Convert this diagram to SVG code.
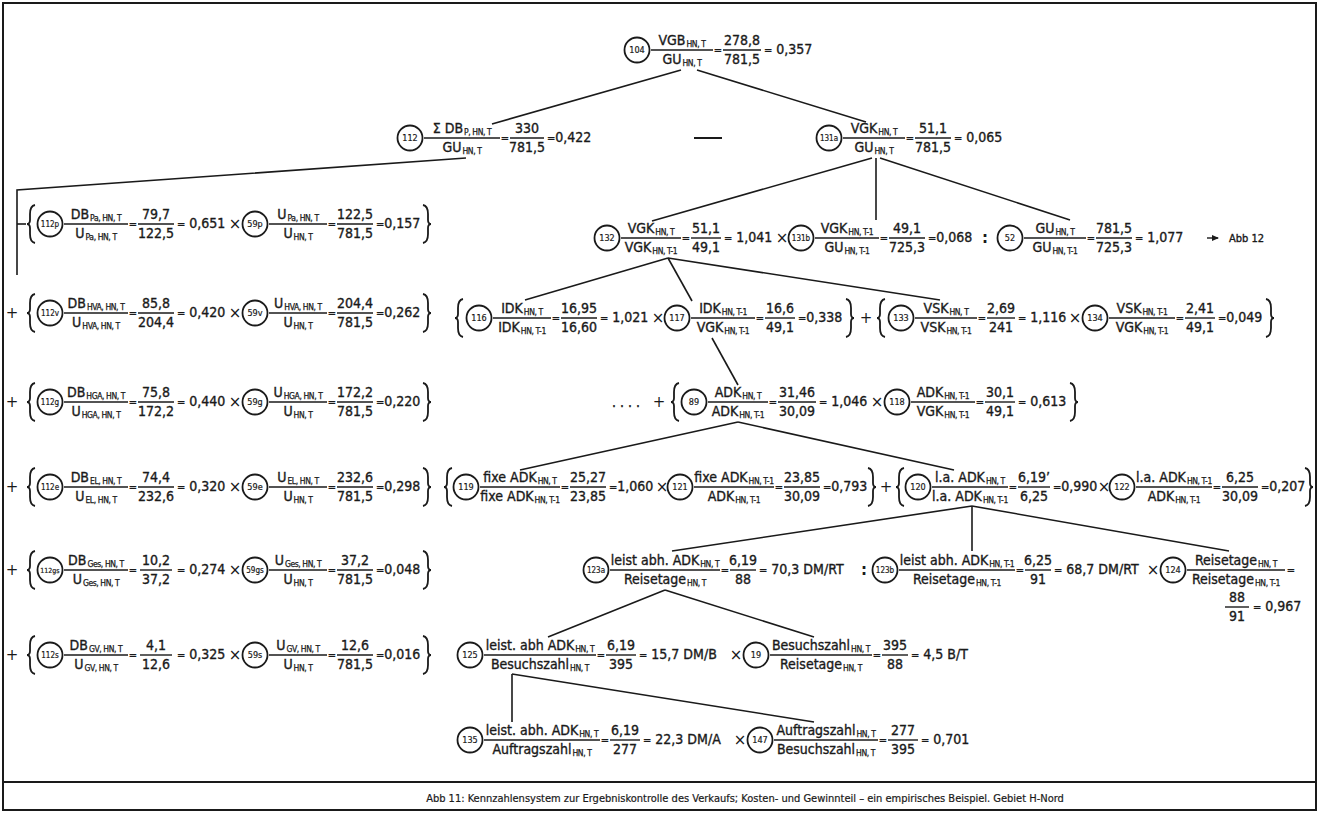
<svg xmlns="http://www.w3.org/2000/svg" width="1319" height="813" viewBox="0 0 1319 813">
<style>
.t{font-family:"DejaVu Sans Condensed","DejaVu Sans","Liberation Sans",sans-serif;font-stretch:condensed;font-size:14px;fill:#1a1a1a;stroke:#1a1a1a;stroke-width:0.35}
.m{text-anchor:middle}
.s{font-size:8.5px;letter-spacing:-0.4px;stroke-width:0.25}
.e{font-size:11px}
.cl{font-family:"DejaVu Sans Condensed","DejaVu Sans","Liberation Sans",sans-serif;font-stretch:condensed;font-size:9px;text-anchor:middle;fill:#1a1a1a;stroke:#1a1a1a;stroke-width:0.2}
.c4{font-size:8px}
.c5{font-size:7px}
.op{font-family:"DejaVu Sans","Liberation Sans",sans-serif;font-size:15px;text-anchor:middle;fill:#1a1a1a}
.cap{font-family:"DejaVu Sans Condensed","DejaVu Sans","Liberation Sans",sans-serif;font-stretch:condensed;font-size:11px;text-anchor:middle;fill:#1a1a1a;stroke:#1a1a1a;stroke-width:0.2}
line,polyline{stroke:#1a1a1a;stroke-width:1.4;fill:none}
.cn line,.cn polyline{stroke-width:1.6}
circle{fill:none;stroke:#1a1a1a;stroke-width:1.8}
</style>
<defs>
<path id="lb" d="M5,-19 Q0,-18 0,-10 L0,-4 Q0,0 -3,0 Q0,0 0,4 L0,10 Q0,18 5,19" fill="none" stroke="#1a1a1a" stroke-width="1.8"/>
<path id="rb" d="M-5,-19 Q0,-18 0,-10 L0,-4 Q0,0 3,0 Q0,0 0,4 L0,10 Q0,18 -5,19" fill="none" stroke="#1a1a1a" stroke-width="1.8"/>
<marker id="ah" markerWidth="8" markerHeight="8" refX="6" refY="3" orient="auto" markerUnits="userSpaceOnUse"><path d="M0,0 L7,3 L0,6 z" fill="#1a1a1a"/></marker>
</defs>
<rect width="1319" height="813" fill="#fff"/>
<g id="frame">
<rect x="3" y="3" width="1313" height="807" fill="none" stroke="#1a1a1a" stroke-width="2"/>
<line x1="3" y1="782" x2="1316" y2="782" style="stroke-width:2"/>
<text class="cap" x="745" y="802">Abb 11: Kennzahlensystem zur Ergebniskontrolle des Verkaufs; Kosten- und Gewinnteil – ein empirisches Beispiel. Gebiet H-Nord</text>
</g>
<g id="connectors" class="cn">
<line x1="681" y1="70" x2="492" y2="124"/>
<line x1="697" y1="70" x2="866" y2="122"/>
<polyline points="466,158 17,190 17,275"/>
<line x1="17" y1="224" x2="26" y2="224"/>
<line x1="872" y1="158" x2="652" y2="221"/>
<line x1="876" y1="158" x2="876" y2="220"/>
<line x1="880" y1="158" x2="1070" y2="220"/>
<line x1="668" y1="258" x2="525" y2="300"/>
<line x1="668" y1="258" x2="692" y2="301"/>
<line x1="668" y1="258" x2="940" y2="300"/>
<line x1="712" y1="338" x2="738" y2="385"/>
<line x1="738" y1="422" x2="520" y2="470"/>
<line x1="738" y1="422" x2="954" y2="470"/>
<line x1="972" y1="506" x2="672" y2="551"/>
<line x1="972" y1="506" x2="972" y2="551"/>
<line x1="972" y1="506" x2="1229" y2="551"/>
<line x1="665" y1="590" x2="548" y2="637"/>
<line x1="665" y1="590" x2="814" y2="637"/>
<line x1="512" y1="674" x2="512" y2="722"/>
<line x1="512" y1="674" x2="814" y2="722"/>
</g>
<g id="operators">
<line x1="694" y1="138" x2="722" y2="138" style="stroke-width:2"/>
<use href="#lb" x="30" y="224"/><use href="#rb" x="428" y="224"/><text class="op" x="235" y="229">×</text>
<text class="op" x="12" y="318">+</text><use href="#lb" x="30" y="313"/><use href="#rb" x="428" y="313"/><text class="op" x="235" y="318">×</text>
<text class="op" x="12" y="407">+</text><use href="#lb" x="30" y="402"/><use href="#rb" x="428" y="402"/><text class="op" x="235" y="407">×</text>
<text class="op" x="12" y="492">+</text><use href="#lb" x="30" y="487"/><use href="#rb" x="428" y="487"/><text class="op" x="235" y="492">×</text>
<text class="op" x="12" y="575">+</text><use href="#lb" x="30" y="570"/><use href="#rb" x="428" y="570"/><text class="op" x="235" y="575">×</text>
<text class="op" x="12" y="660">+</text><use href="#lb" x="30" y="655"/><use href="#rb" x="428" y="655"/><text class="op" x="235" y="660">×</text>
<text class="op" x="782" y="243">×</text>
<text class="op" x="985" y="243" style="font-weight:bold">:</text>
<line x1="1207" y1="238" x2="1218" y2="238" marker-end="url(#ah)"/>
<text class="t" x="1229" y="242" style="font-size:11px">Abb 12</text>
<use href="#lb" x="458" y="318"/><text class="op" x="658" y="323">×</text><use href="#rb" x="851" y="318"/>
<text class="op" x="866" y="323">+</text>
<use href="#lb" x="880" y="318"/><text class="op" x="1075" y="323">×</text><use href="#rb" x="1271" y="318"/>
<text class="t" x="612" y="407">. . . .</text>
<text class="op" x="659" y="407">+</text>
<use href="#lb" x="674" y="402"/><text class="op" x="877" y="407">×</text><use href="#rb" x="1075" y="402"/>
<use href="#lb" x="447" y="487"/><text class="op" x="662" y="492">×</text><use href="#rb" x="873" y="487"/>
<text class="op" x="886" y="492">+</text>
<use href="#lb" x="899" y="487"/><text class="op" x="1104" y="492">×</text><use href="#rb" x="1310" y="487"/>
<text class="op" x="864" y="575" style="font-weight:bold">:</text>
<text class="op" x="1153" y="575">×</text>
<text class="op" x="736" y="660">×</text>
<text class="op" x="740" y="745">×</text>
</g>

<g id="n104" transform="translate(637,50)">
<circle r="12.5"/><text class="cl" y="3">104</text>
<text class="t m" x="45" y="-5">VGB<tspan class="s" dx="1" dy="2">HN, T</tspan></text>
<line x1="14" x2="76"/>
<text class="t m" x="45" y="14">GU<tspan class="s" dx="1" dy="2">HN, T</tspan></text>
<text class="t m e" x="81" y="4">=</text>
<text class="t m" x="105" y="-5">278,8</text><line x1="86" x2="124"/><text class="t m" x="105" y="14">781,5</text>
<text class="t" x="127" y="4"><tspan class="e">=</tspan> 0,357</text>
</g>

<g id="n112" transform="translate(410,138)">
<circle r="12.5"/><text class="cl" y="3">112</text>
<text class="t m" x="52" y="-5">Σ DB<tspan class="s" dx="1" dy="2">P, HN, T</tspan></text>
<line x1="14" x2="90"/>
<text class="t m" x="52" y="14">GU<tspan class="s" dx="1" dy="2">HN, T</tspan></text>
<text class="t m e" x="95" y="4">=</text>
<text class="t m" x="117" y="-5">330</text><line x1="100" x2="134"/><text class="t m" x="117" y="14">781,5</text>
<text class="t" x="137" y="4"><tspan class="e">=</tspan>0,422</text>
</g>

<g id="n131a" transform="translate(829,138)">
<circle r="12.5"/><text class="cl c4" y="3">131a</text>
<text class="t m" x="45" y="-5">VGK<tspan class="s" dx="1" dy="2">HN, T</tspan></text>
<line x1="14" x2="76"/>
<text class="t m" x="45" y="14">GU<tspan class="s" dx="1" dy="2">HN, T</tspan></text>
<text class="t m e" x="81" y="4">=</text>
<text class="t m" x="104" y="-5">51,1</text><line x1="86" x2="122"/><text class="t m" x="104" y="14">781,5</text>
<text class="t" x="125" y="4"><tspan class="e">=</tspan> 0,065</text>
</g>

<g id="n112p" transform="translate(50,224)">
<circle r="12.5"/><text class="cl c4" y="3">112p</text>
<text class="t m" x="46" y="-5">DB<tspan class="s" dx="1" dy="2">Pa, HN, T</tspan></text><line x1="14" x2="78"/><text class="t m" x="46" y="14">U<tspan class="s" dx="1" dy="2">Pa, HN, T</tspan></text>
<text class="t m e" x="83" y="4">=</text>
<text class="t m" x="106" y="-5">79,7</text><line x1="88" x2="124"/><text class="t m" x="106" y="14">122,5</text>
<text class="t" x="127" y="4"><tspan class="e">=</tspan> 0,651</text>
</g>
<g id="n59p" transform="translate(255,224)">
<circle r="12.5"/><text class="cl" y="3">59p</text>
<text class="t m" x="43" y="-5">U<tspan class="s" dx="1" dy="2">Pa, HN, T</tspan></text><line x1="14" x2="72"/><text class="t m" x="43" y="14">U<tspan class="s" dx="1" dy="2">HN, T</tspan></text>
<text class="t m e" x="77" y="4">=</text>
<text class="t m" x="100" y="-5">122,5</text><line x1="82" x2="118"/><text class="t m" x="100" y="14">781,5</text>
<text class="t" x="121" y="4"><tspan class="e">=</tspan>0,157</text>
</g>

<g id="n112v" transform="translate(50,313)">
<circle r="12.5"/><text class="cl c4" y="3">112v</text>
<text class="t m" x="46" y="-5">DB<tspan class="s" dx="1" dy="2">HVA, HN, T</tspan></text><line x1="14" x2="78"/><text class="t m" x="46" y="14">U<tspan class="s" dx="1" dy="2">HVA, HN, T</tspan></text>
<text class="t m e" x="83" y="4">=</text>
<text class="t m" x="106" y="-5">85,8</text><line x1="88" x2="124"/><text class="t m" x="106" y="14">204,4</text>
<text class="t" x="127" y="4"><tspan class="e">=</tspan> 0,420</text>
</g>
<g id="n59v" transform="translate(255,313)">
<circle r="12.5"/><text class="cl" y="3">59v</text>
<text class="t m" x="43" y="-5">U<tspan class="s" dx="1" dy="2">HVA, HN, T</tspan></text><line x1="14" x2="72"/><text class="t m" x="43" y="14">U<tspan class="s" dx="1" dy="2">HN, T</tspan></text>
<text class="t m e" x="77" y="4">=</text>
<text class="t m" x="100" y="-5">204,4</text><line x1="82" x2="118"/><text class="t m" x="100" y="14">781,5</text>
<text class="t" x="121" y="4"><tspan class="e">=</tspan>0,262</text>
</g>

<g id="n112g" transform="translate(50,402)">
<circle r="12.5"/><text class="cl c4" y="3">112g</text>
<text class="t m" x="46" y="-5">DB<tspan class="s" dx="1" dy="2">HGA, HN, T</tspan></text><line x1="14" x2="78"/><text class="t m" x="46" y="14">U<tspan class="s" dx="1" dy="2">HGA, HN, T</tspan></text>
<text class="t m e" x="83" y="4">=</text>
<text class="t m" x="106" y="-5">75,8</text><line x1="88" x2="124"/><text class="t m" x="106" y="14">172,2</text>
<text class="t" x="127" y="4"><tspan class="e">=</tspan> 0,440</text>
</g>
<g id="n59g" transform="translate(255,402)">
<circle r="12.5"/><text class="cl" y="3">59g</text>
<text class="t m" x="43" y="-5">U<tspan class="s" dx="1" dy="2">HGA, HN, T</tspan></text><line x1="14" x2="72"/><text class="t m" x="43" y="14">U<tspan class="s" dx="1" dy="2">HN, T</tspan></text>
<text class="t m e" x="77" y="4">=</text>
<text class="t m" x="100" y="-5">172,2</text><line x1="82" x2="118"/><text class="t m" x="100" y="14">781,5</text>
<text class="t" x="121" y="4"><tspan class="e">=</tspan>0,220</text>
</g>

<g id="n112e" transform="translate(50,487)">
<circle r="12.5"/><text class="cl c4" y="3">112e</text>
<text class="t m" x="46" y="-5">DB<tspan class="s" dx="1" dy="2">EL, HN, T</tspan></text><line x1="14" x2="78"/><text class="t m" x="46" y="14">U<tspan class="s" dx="1" dy="2">EL, HN, T</tspan></text>
<text class="t m e" x="83" y="4">=</text>
<text class="t m" x="106" y="-5">74,4</text><line x1="88" x2="124"/><text class="t m" x="106" y="14">232,6</text>
<text class="t" x="127" y="4"><tspan class="e">=</tspan> 0,320</text>
</g>
<g id="n59e" transform="translate(255,487)">
<circle r="12.5"/><text class="cl" y="3">59e</text>
<text class="t m" x="43" y="-5">U<tspan class="s" dx="1" dy="2">EL, HN, T</tspan></text><line x1="14" x2="72"/><text class="t m" x="43" y="14">U<tspan class="s" dx="1" dy="2">HN, T</tspan></text>
<text class="t m e" x="77" y="4">=</text>
<text class="t m" x="100" y="-5">232,6</text><line x1="82" x2="118"/><text class="t m" x="100" y="14">781,5</text>
<text class="t" x="121" y="4"><tspan class="e">=</tspan>0,298</text>
</g>

<g id="n112gs" transform="translate(50,570)">
<circle r="12.5"/><text class="cl c5" y="3">112gs</text>
<text class="t m" x="46" y="-5">DB<tspan class="s" dx="1" dy="2">Ges, HN, T</tspan></text><line x1="14" x2="78"/><text class="t m" x="46" y="14">U<tspan class="s" dx="1" dy="2">Ges, HN, T</tspan></text>
<text class="t m e" x="83" y="4">=</text>
<text class="t m" x="106" y="-5">10,2</text><line x1="90" x2="122"/><text class="t m" x="106" y="14">37,2</text>
<text class="t" x="127" y="4"><tspan class="e">=</tspan> 0,274</text>
</g>
<g id="n59gs" transform="translate(255,570)">
<circle r="12.5"/><text class="cl c4" y="3">59gs</text>
<text class="t m" x="43" y="-5">U<tspan class="s" dx="1" dy="2">Ges, HN, T</tspan></text><line x1="14" x2="72"/><text class="t m" x="43" y="14">U<tspan class="s" dx="1" dy="2">HN, T</tspan></text>
<text class="t m e" x="77" y="4">=</text>
<text class="t m" x="100" y="-5">37,2</text><line x1="82" x2="118"/><text class="t m" x="100" y="14">781,5</text>
<text class="t" x="121" y="4"><tspan class="e">=</tspan>0,048</text>
</g>

<g id="n112s" transform="translate(50,655)">
<circle r="12.5"/><text class="cl c4" y="3">112s</text>
<text class="t m" x="46" y="-5">DB<tspan class="s" dx="1" dy="2">GV, HN, T</tspan></text><line x1="14" x2="78"/><text class="t m" x="46" y="14">U<tspan class="s" dx="1" dy="2">GV, HN, T</tspan></text>
<text class="t m e" x="83" y="4">=</text>
<text class="t m" x="106" y="-5">4,1</text><line x1="90" x2="122"/><text class="t m" x="106" y="14">12,6</text>
<text class="t" x="127" y="4"><tspan class="e">=</tspan> 0,325</text>
</g>
<g id="n59s" transform="translate(255,655)">
<circle r="12.5"/><text class="cl" y="3">59s</text>
<text class="t m" x="43" y="-5">U<tspan class="s" dx="1" dy="2">GV, HN, T</tspan></text><line x1="14" x2="72"/><text class="t m" x="43" y="14">U<tspan class="s" dx="1" dy="2">HN, T</tspan></text>
<text class="t m e" x="77" y="4">=</text>
<text class="t m" x="100" y="-5">12,6</text><line x1="82" x2="118"/><text class="t m" x="100" y="14">781,5</text>
<text class="t" x="121" y="4"><tspan class="e">=</tspan>0,016</text>
</g>

<g id="n132" transform="translate(607,238)">
<circle r="12.5"/><text class="cl" y="3">132</text>
<text class="t m" x="44" y="-5">VGK<tspan class="s" dx="1" dy="2">HN, T</tspan></text><line x1="14" x2="74"/><text class="t m" x="44" y="14">VGK<tspan class="s" dx="1" dy="2">HN, T-1</tspan></text>
<text class="t m e" x="79" y="4">=</text>
<text class="t m" x="99" y="-5">51,1</text><line x1="84" x2="114"/><text class="t m" x="99" y="14">49,1</text>
<text class="t" x="117" y="4"><tspan class="e">=</tspan> 1,041</text>
</g>
<g id="n131b" transform="translate(801,238)">
<circle r="12.5"/><text class="cl c4" y="3">131b</text>
<text class="t m" x="46" y="-5">VGK<tspan class="s" dx="1" dy="2">HN, T-1</tspan></text><line x1="14" x2="78"/><text class="t m" x="46" y="14">GU<tspan class="s" dx="1" dy="2">HN, T-1</tspan></text>
<text class="t m e" x="83" y="4">=</text>
<text class="t m" x="106" y="-5">49,1</text><line x1="88" x2="124"/><text class="t m" x="106" y="14">725,3</text>
<text class="t" x="127" y="4"><tspan class="e">=</tspan>0,068</text>
</g>
<g id="n52" transform="translate(1010,238)">
<circle r="12.5"/><text class="cl" y="3">52</text>
<text class="t m" x="45" y="-5">GU<tspan class="s" dx="1" dy="2">HN, T</tspan></text><line x1="14" x2="76"/><text class="t m" x="45" y="14">GU<tspan class="s" dx="1" dy="2">HN, T-1</tspan></text>
<text class="t m e" x="81" y="4">=</text>
<text class="t m" x="104" y="-5">781,5</text><line x1="86" x2="122"/><text class="t m" x="104" y="14">725,3</text>
<text class="t" x="125" y="4"><tspan class="e">=</tspan> 1,077</text>
</g>

<g id="n116" transform="translate(479,318)">
<circle r="12.5"/><text class="cl" y="3">116</text>
<text class="t m" x="43" y="-5">IDK<tspan class="s" dx="1" dy="2">HN, T</tspan></text><line x1="14" x2="72"/><text class="t m" x="43" y="14">IDK<tspan class="s" dx="1" dy="2">HN, T-1</tspan></text>
<text class="t m e" x="77" y="4">=</text>
<text class="t m" x="100" y="-5">16,95</text><line x1="82" x2="118"/><text class="t m" x="100" y="14">16,60</text>
<text class="t" x="121" y="4"><tspan class="e">=</tspan> 1,021</text>
</g>
<g id="n117" transform="translate(677,318)">
<circle r="12.5"/><text class="cl" y="3">117</text>
<text class="t m" x="46" y="-5">IDK<tspan class="s" dx="1" dy="2">HN, T-1</tspan></text><line x1="14" x2="78"/><text class="t m" x="46" y="14">VGK<tspan class="s" dx="1" dy="2">HN, T-1</tspan></text>
<text class="t m e" x="83" y="4">=</text>
<text class="t m" x="103" y="-5">16,6</text><line x1="88" x2="118"/><text class="t m" x="103" y="14">49,1</text>
<text class="t" x="121" y="4"><tspan class="e">=</tspan>0,338</text>
</g>
<g id="n133" transform="translate(901,318)">
<circle r="12.5"/><text class="cl" y="3">133</text>
<text class="t m" x="45" y="-5">VSK<tspan class="s" dx="1" dy="2">HN, T</tspan></text><line x1="14" x2="76"/><text class="t m" x="45" y="14">VSK<tspan class="s" dx="1" dy="2">HN, T-1</tspan></text>
<text class="t m e" x="81" y="4">=</text>
<text class="t m" x="100" y="-5">2,69</text><line x1="86" x2="114"/><text class="t m" x="100" y="14">241</text>
<text class="t" x="117" y="4"><tspan class="e">=</tspan> 1,116</text>
</g>
<g id="n134" transform="translate(1095,318)">
<circle r="12.5"/><text class="cl" y="3">134</text>
<text class="t m" x="47" y="-5">VSK<tspan class="s" dx="1" dy="2">HN, T-1</tspan></text><line x1="14" x2="80"/><text class="t m" x="47" y="14">VGK<tspan class="s" dx="1" dy="2">HN, T-1</tspan></text>
<text class="t m e" x="85" y="4">=</text>
<text class="t m" x="105" y="-5">2,41</text><line x1="90" x2="120"/><text class="t m" x="105" y="14">49,1</text>
<text class="t" x="123" y="4"><tspan class="e">=</tspan>0,049</text>
</g>

<g id="n89" transform="translate(694,402)">
<circle r="12.5"/><text class="cl" y="3">89</text>
<text class="t m" x="44" y="-5">ADK<tspan class="s" dx="1" dy="2">HN, T</tspan></text><line x1="14" x2="74"/><text class="t m" x="44" y="14">ADK<tspan class="s" dx="1" dy="2">HN, T-1</tspan></text>
<text class="t m e" x="79" y="4">=</text>
<text class="t m" x="103" y="-5">31,46</text><line x1="84" x2="122"/><text class="t m" x="103" y="14">30,09</text>
<text class="t" x="125" y="4"><tspan class="e">=</tspan> 1,046</text>
</g>
<g id="n118" transform="translate(897,402)">
<circle r="12.5"/><text class="cl" y="3">118</text>
<text class="t m" x="46" y="-5">ADK<tspan class="s" dx="1" dy="2">HN, T-1</tspan></text><line x1="14" x2="78"/><text class="t m" x="46" y="14">VGK<tspan class="s" dx="1" dy="2">HN, T-1</tspan></text>
<text class="t m e" x="83" y="4">=</text>
<text class="t m" x="103" y="-5">30,1</text><line x1="88" x2="118"/><text class="t m" x="103" y="14">49,1</text>
<text class="t" x="121" y="4"><tspan class="e">=</tspan> 0,613</text>
</g>

<g id="n119" transform="translate(466,487)">
<circle r="12.5"/><text class="cl" y="3">119</text>
<text class="t m" x="54" y="-5">fixe ADK<tspan class="s" dx="1" dy="2">HN, T</tspan></text><line x1="14" x2="94"/><text class="t m" x="54" y="14">fixe ADK<tspan class="s" dx="1" dy="2">HN, T-1</tspan></text>
<text class="t m e" x="99" y="4">=</text>
<text class="t m" x="122" y="-5">25,27</text><line x1="104" x2="140"/><text class="t m" x="122" y="14">23,85</text>
<text class="t" x="143" y="4"><tspan class="e">=</tspan>1,060</text>
</g>
<g id="n121" transform="translate(680,487)">
<circle r="12.5"/><text class="cl" y="3">121</text>
<text class="t m" x="54" y="-5">fixe ADK<tspan class="s" dx="1" dy="2">HN, T-1</tspan></text><line x1="14" x2="94"/><text class="t m" x="54" y="14">ADK<tspan class="s" dx="1" dy="2">HN, T-1</tspan></text>
<text class="t m e" x="99" y="4">=</text>
<text class="t m" x="122" y="-5">23,85</text><line x1="104" x2="140"/><text class="t m" x="122" y="14">30,09</text>
<text class="t" x="143" y="4"><tspan class="e">=</tspan>0,793</text>
</g>
<g id="n120" transform="translate(918,487)">
<circle r="12.5"/><text class="cl" y="3">120</text>
<text class="t m" x="52" y="-5">l.a. ADK<tspan class="s" dx="1" dy="2">HN, T</tspan></text><line x1="14" x2="90"/><text class="t m" x="52" y="14">l.a. ADK<tspan class="s" dx="1" dy="2">HN, T-1</tspan></text>
<text class="t m e" x="95" y="4">=</text>
<text class="t m" x="116" y="-5">6,19’</text><line x1="100" x2="132"/><text class="t m" x="116" y="14">6,25</text>
<text class="t" x="135" y="4"><tspan class="e">=</tspan>0,990</text>
</g>
<g id="n122" transform="translate(1122,487)">
<circle r="12.5"/><text class="cl" y="3">122</text>
<text class="t m" x="52" y="-5">l.a. ADK<tspan class="s" dx="1" dy="2">HN, T-1</tspan></text><line x1="14" x2="90"/><text class="t m" x="52" y="14">ADK<tspan class="s" dx="1" dy="2">HN, T-1</tspan></text>
<text class="t m e" x="95" y="4">=</text>
<text class="t m" x="118" y="-5">6,25</text><line x1="100" x2="136"/><text class="t m" x="118" y="14">30,09</text>
<text class="t" x="139" y="4"><tspan class="e">=</tspan>0,207</text>
</g>

<g id="n123a" transform="translate(596,570)">
<circle r="12.5"/><text class="cl c4" y="3">123a</text>
<text class="t m" x="69" y="-5">leist abh. ADK<tspan class="s" dx="1" dy="2">HN, T</tspan></text><line x1="14" x2="124"/><text class="t m" x="69" y="14">Reisetage<tspan class="s" dx="1" dy="2">HN, T</tspan></text>
<text class="t m e" x="129" y="4">=</text>
<text class="t m" x="147" y="-5">6,19</text><line x1="134" x2="160"/><text class="t m" x="147" y="14">88</text>
<text class="t" x="163" y="4"><tspan class="e">=</tspan> 70,3 DM/RT</text>
</g>
<g id="n123b" transform="translate(885,570)">
<circle r="12.5"/><text class="cl c4" y="3">123b</text>
<text class="t m" x="72" y="-5">leist abh. ADK<tspan class="s" dx="1" dy="2">HN, T-1</tspan></text><line x1="14" x2="130"/><text class="t m" x="72" y="14">Reisetage<tspan class="s" dx="1" dy="2">HN, T-1</tspan></text>
<text class="t m e" x="135" y="4">=</text>
<text class="t m" x="153" y="-5">6,25</text><line x1="140" x2="166"/><text class="t m" x="153" y="14">91</text>
<text class="t" x="169" y="4"><tspan class="e">=</tspan> 68,7 DM/RT</text>
</g>
<g id="n124" transform="translate(1173,570)">
<circle r="12.5"/><text class="cl" y="3">124</text>
<text class="t m" x="63" y="-5">Reisetage<tspan class="s" dx="1" dy="2">HN, T</tspan></text><line x1="14" x2="112"/><text class="t m" x="63" y="14">Reisetage<tspan class="s" dx="1" dy="2">HN, T-1</tspan></text>
<text class="t m e" x="118" y="4">=</text>
<text class="t m" x="64" y="32">88</text><line x1="52" y1="37" x2="76" y2="37"/><text class="t m" x="64" y="51">91</text>
<text class="t" x="80" y="41"><tspan class="e">=</tspan> 0,967</text>
</g>

<g id="n125" transform="translate(470,655)">
<circle r="12.5"/><text class="cl" y="3">125</text>
<text class="t m" x="70" y="-5">leist. abh ADK<tspan class="s" dx="1" dy="2">HN, T</tspan></text><line x1="14" x2="126"/><text class="t m" x="70" y="14">Besuchszahl<tspan class="s" dx="1" dy="2">HN, T</tspan></text>
<text class="t m e" x="131" y="4">=</text>
<text class="t m" x="151" y="-5">6,19</text><line x1="136" x2="166"/><text class="t m" x="151" y="14">395</text>
<text class="t" x="169" y="4"><tspan class="e">=</tspan> 15,7 DM/B</text>
</g>
<g id="n19" transform="translate(756,655)">
<circle r="12.5"/><text class="cl" y="3">19</text>
<text class="t m" x="65" y="-5">Besuchszahl<tspan class="s" dx="1" dy="2">HN, T</tspan></text><line x1="14" x2="116"/><text class="t m" x="65" y="14">Reisetage<tspan class="s" dx="1" dy="2">HN, T</tspan></text>
<text class="t m e" x="121" y="4">=</text>
<text class="t m" x="139" y="-5">395</text><line x1="126" x2="152"/><text class="t m" x="139" y="14">88</text>
<text class="t" x="155" y="4"><tspan class="e">=</tspan> 4,5 B/T</text>
</g>

<g id="n135" transform="translate(470,740)">
<circle r="12.5"/><text class="cl" y="3">135</text>
<text class="t m" x="72" y="-5">leist. abh. ADK<tspan class="s" dx="1" dy="2">HN, T</tspan></text><line x1="14" x2="130"/><text class="t m" x="72" y="14">Auftragszahl<tspan class="s" dx="1" dy="2">HN, T</tspan></text>
<text class="t m e" x="135" y="4">=</text>
<text class="t m" x="155" y="-5">6,19</text><line x1="140" x2="170"/><text class="t m" x="155" y="14">277</text>
<text class="t" x="173" y="4"><tspan class="e">=</tspan> 22,3 DM/A</text>
</g>
<g id="n147" transform="translate(760,740)">
<circle r="12.5"/><text class="cl" y="3">147</text>
<text class="t m" x="66" y="-5">Auftragszahl<tspan class="s" dx="1" dy="2">HN, T</tspan></text><line x1="14" x2="118"/><text class="t m" x="66" y="14">Besuchszahl<tspan class="s" dx="1" dy="2">HN, T</tspan></text>
<text class="t m e" x="123" y="4">=</text>
<text class="t m" x="143" y="-5">277</text><line x1="128" x2="158"/><text class="t m" x="143" y="14">395</text>
<text class="t" x="161" y="4"><tspan class="e">=</tspan> 0,701</text>
</g>
</svg>
